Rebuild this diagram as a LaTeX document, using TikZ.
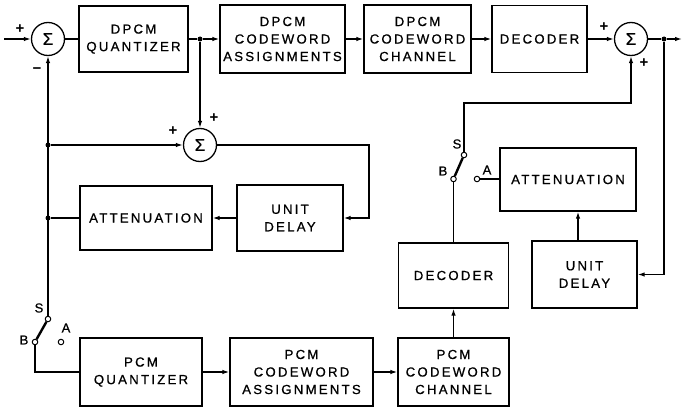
\documentclass[tikz,border=0pt]{standalone}
\usepackage{fontspec}
\setmainfont{Liberation Sans}
\newfontfamily\lblfont[LetterSpace=17,FakeBold=0.8]{Liberation Sans}
\newfontfamily\sfont[FakeBold=0.8]{Liberation Sans}
\usetikzlibrary{arrows.meta,calc}
\begin{document}
\begin{tikzpicture}[x=1pt,y=-1pt,
  box/.style={draw,line width=1.3pt,inner sep=0pt,align=center,font=\lblfont\fontsize{13.2}{17.5}\selectfont},
  sum/.style={draw,circle,line width=1.3pt,minimum size=33pt,inner sep=0pt,font=\sfont\fontsize{17}{17}\selectfont},
  dot/.style={circle,fill,inner sep=0pt,minimum size=5pt},
  term/.style={circle,draw,fill=white,line width=1pt,inner sep=0pt,minimum size=5.5pt},
  wire/.style={line width=1.3pt},
  arr/.style={line width=1.3pt,-{Latex[length=7pt,width=4.5pt]}},
  sgn/.style={font=\fontsize{15}{15}\selectfont\bfseries,inner sep=0pt},
  lbl/.style={font=\sfont\fontsize{13}{13}\selectfont,inner sep=0pt}]
\useasboundingbox (0,0) rectangle (682,412);
% top row
\node[sum] (s1) at (48,39) {Σ};
\node[box,minimum width=109pt,minimum height=66pt] (dq) at (133.5,39) {DPCM\\QUANTIZER};
\node[box,minimum width=125pt,minimum height=68pt] (dca) at (282.5,39) {DPCM\\CODEWORD\\ASSIGNMENTS};
\node[box,minimum width=107pt,minimum height=68pt] (dcc) at (417.5,39) {DPCM\\CODEWORD\\CHANNEL};
\node[box,minimum width=95pt,minimum height=67pt] (ddec) at (539.5,39) {DECODER};
\node[sum] (s2) at (631,39) {Σ};
\node[dot] (j1) at (200,39) {};
\node[dot] (j2) at (664,39) {};
\coordinate (in) at (4,39);
\coordinate (out) at (682,39);
% left middle
\node[sum] (s3) at (200,145) {Σ};
\node[dot] (d1) at (48,145) {};
\node[dot] (d2) at (48,218) {};
\node[box,minimum width=132pt,minimum height=64pt] (latt) at (146,218) {ATTENUATION};
\node[box,minimum width=106pt,minimum height=66pt] (lud) at (290,218) {UNIT\\DELAY};
\coordinate (c1) at (369,145);
% right middle
\node[box,minimum width=136pt,minimum height=63pt] (ratt) at (568,179.5) {ATTENUATION};
\node[box,minimum width=105pt,minimum height=67pt] (rud) at (584.5,274.5) {UNIT\\DELAY};
\node[box,minimum width=110pt,minimum height=65pt] (rdec) at (453.5,275.5) {DECODER};
\node[term] (rS) at (464,155) {};
\node[term] (rB) at (453.5,179) {};
\node[term] (rA) at (477,179) {};
\node[lbl] at (457,144) {S};
\node[lbl] at (443,171) {B};
\node[lbl] at (487,170) {A};
\coordinate (c4) at (464,103);
% bottom row
\node[box,minimum width=122pt,minimum height=68pt] (pq) at (141,372) {PCM\\QUANTIZER};
\node[box,minimum width=143pt,minimum height=68pt] (pca) at (301.5,372) {PCM\\CODEWORD\\ASSIGNMENTS};
\node[box,minimum width=111pt,minimum height=68pt] (pcc) at (453.5,372) {PCM\\CODEWORD\\CHANNEL};
\node[term] (lS) at (48,319) {};
\node[term] (lB) at (35,342) {};
\node[term] (lA) at (61,342) {};
\node[lbl] at (39,308) {S};
\node[lbl] at (24,340) {B};
\node[lbl] at (66,328) {A};
% signs
\node[sgn] at (20,29) {+};
\node[sgn] at (37,71) {−};
\node[sgn] at (173,131) {+};
\node[sgn] at (214,118) {+};
\node[sgn] at (604,27) {+};
\node[sgn] at (644,63) {+};
% connectors top
\draw[arr] (in) -- (s1);
\draw[wire] (s1) -- (dq);
\draw[wire] (dq) -- (j1);
\draw[arr] (j1) -- (dca);
\draw[arr] (dca) -- (dcc);
\draw[arr] (dcc) -- (ddec);
\draw[arr] (ddec) -- (s2);
\draw[wire] (s2) -- (j2);
\draw[arr] (j2) -- (out);
\draw[arr] (j1) -- (s3);
% left loop
\draw[arr] (lS) -- (s1);
\draw[arr] (d1) -- (s3);
\draw[arr] (s3) -- (c1) |- (lud.east);
\draw[arr] (lud) -- (latt);
\draw[wire] (latt) -- (d2);
\draw[line width=2.4pt] (lB) -- (lS);
\draw[wire] (lB) |- (pq.west);
% bottom
\draw[arr] (pq) -- (pca);
\draw[arr] (pca) -- (pcc);
\draw[arr] (pcc) -- (rdec);
% right side
\draw[wire] (rdec) -- (rB);
\draw[line width=2.4pt] (rB) -- (rS);
\draw[wire] (rA) -- (rA -| ratt.west);
\draw[arr] (rS) -- (c4) -| (s2.south);
\draw[arr] (j2) |- (rud.east);
\draw[arr] ([xshift=-6.5pt]rud.north) -- ([xshift=-6.5pt]rud.north |- ratt.south);
\end{tikzpicture}
\end{document}
